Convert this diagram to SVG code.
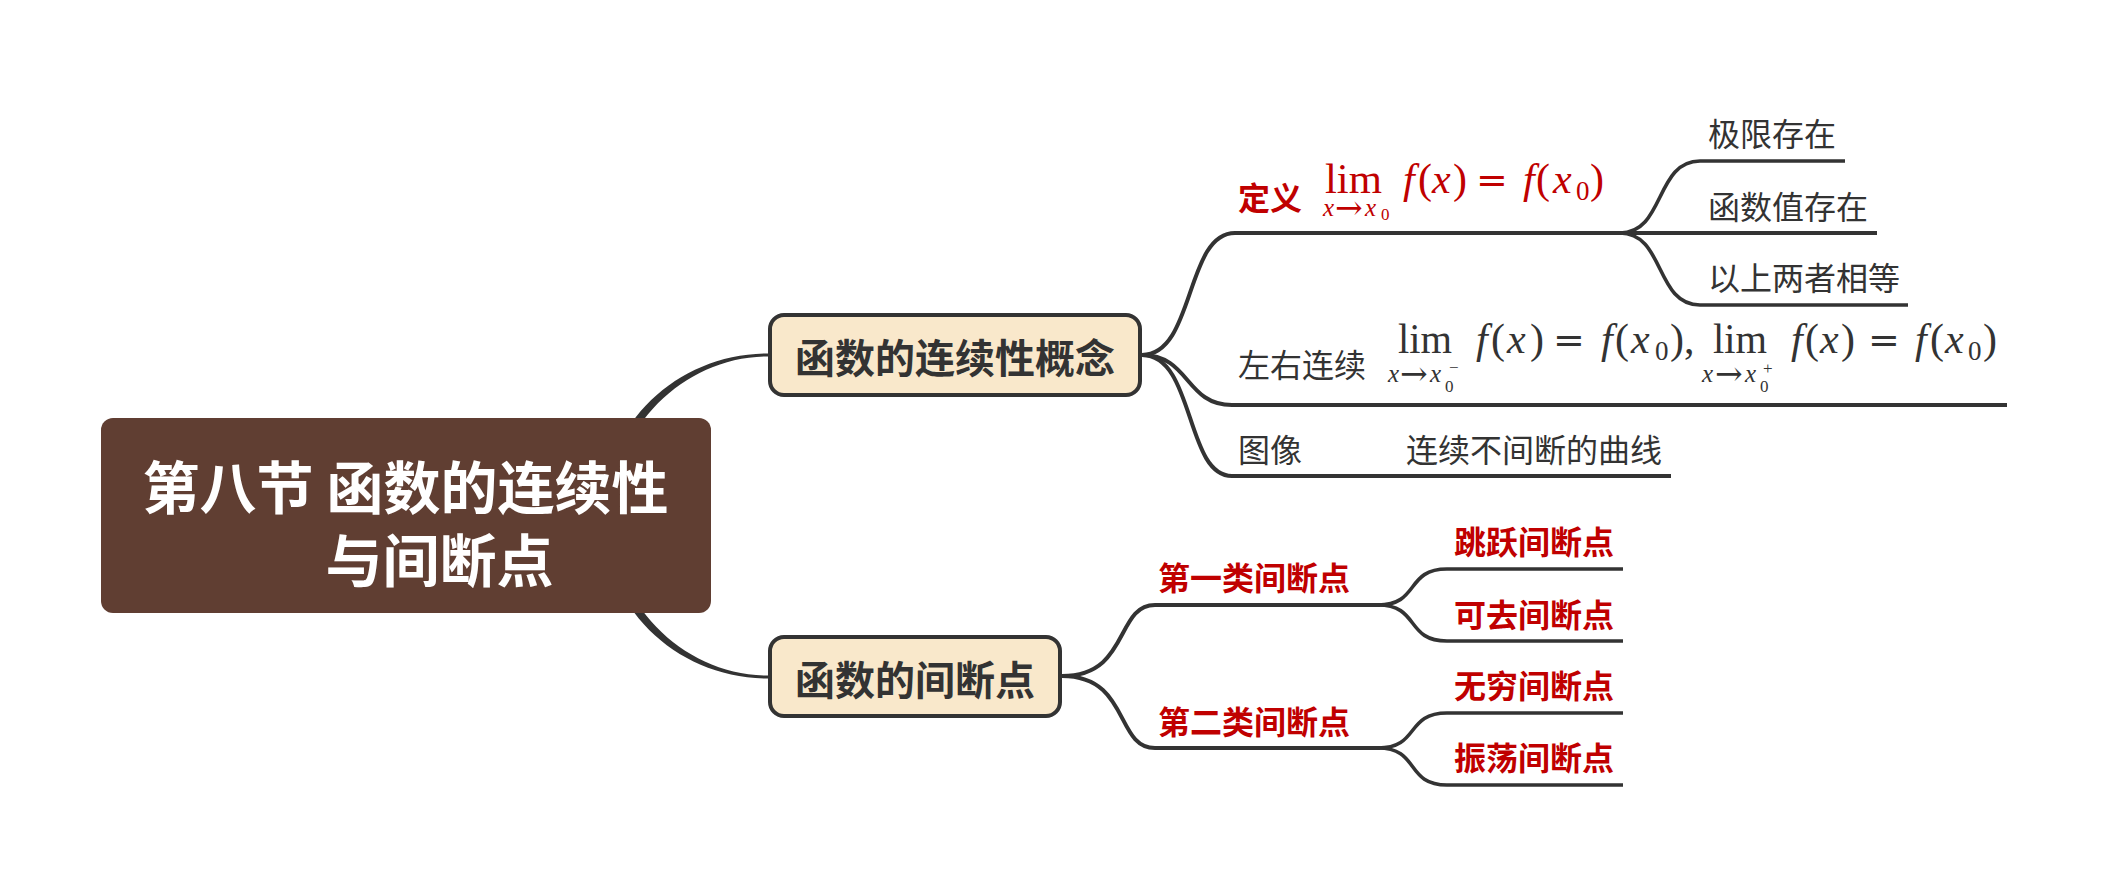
<svg xmlns="http://www.w3.org/2000/svg" width="2108" height="888" viewBox="0 0 2108 888">
<style>
.ln{fill:none;stroke:#333;stroke-width:4;stroke-linecap:butt}
.sub{stroke-width:3.6}
.tap{fill:#333}
.cjk{font-family:"Noto Sans CJK SC","Liberation Sans",sans-serif;dominant-baseline:central}
.g{fill:#333;font-size:32px}
.r{fill:#C00000;font-size:32px;font-weight:bold}
.node{fill:#F9E8CB;stroke:#333;stroke-width:4}
.nt{fill:#333;font-size:40px;font-weight:bold;text-anchor:middle}
.rt{fill:#fff;font-size:57px;font-weight:bold;text-anchor:middle}
.m{font-family:"Liberation Serif",serif;font-size:42px}
.s{font-family:"Liberation Serif",serif;font-size:25px}
.ss{font-size:17px}
.z{font-size:27px}
.ar{font-family:"DejaVu Serif",serif;font-size:33px}
.eq{font-family:"DejaVu Serif",serif;font-size:38px}
.i{font-style:italic}
.red{fill:#C00000}
.dk{fill:#333}
</style>
<rect width="2108" height="888" fill="#fff"/>
<g id="connectors">
<path class="tap" d="M602,516 C602,425.5 676.3,353.5 768,353.5 L771,353.5 L771,356.5 L768,356.5 C683,356.5 611,429.5 611,516 Z"/>
<path class="tap" d="M602,516 C602,606.5 676.3,678.5 768,678.5 L771,678.5 L771,675.5 L768,675.5 C683,675.5 611,602.5 611,516 Z"/>
<path class="ln" d="M1142,355 C1195,355 1185,233 1235,233 L1877,233"/>
<path class="ln" d="M1142,355 C1190,355 1185,405 1232,405 L2007,405"/>
<path class="ln" d="M1142,355 C1195,355 1185,476 1232,476 L1671,476"/>
<path class="ln sub" d="M1620,233 C1665,233 1655,161 1700,161 L1845,161"/>
<path class="ln sub" d="M1620,233 C1665,233 1655,305 1700,305 L1908,305"/>
<path class="ln" d="M1062,676 C1130,676 1115,605 1155,605 L1380,605"/>
<path class="ln" d="M1062,676 C1130,676 1115,748 1155,748 L1380,748"/>
<path class="ln sub" d="M1378,605 C1420,605 1405,569 1447,569 L1623,569"/>
<path class="ln sub" d="M1378,605 C1420,605 1405,641 1447,641 L1623,641"/>
<path class="ln sub" d="M1378,748 C1420,748 1405,713 1447,713 L1623,713"/>
<path class="ln sub" d="M1378,748 C1420,748 1405,785 1447,785 L1623,785"/>
</g>
<g id="root">
<rect x="101" y="418" width="610" height="195" rx="12" fill="#603E32"/>
<text class="cjk rt" x="405.5" y="483.5">第八节 函数的连续性</text>
<text class="cjk rt" x="439.5" y="556.5">与间断点</text>
</g>
<g id="node-continuity">
<rect class="node" x="770" y="315" width="370" height="80" rx="14"/>
<text class="cjk nt" x="955" y="356">函数的连续性概念</text>
</g>
<g id="node-discontinuity">
<rect class="node" x="770" y="637" width="290" height="79" rx="14"/>
<text class="cjk nt" x="915" y="678">函数的间断点</text>
</g>
<g id="node-definition">
<text class="cjk r" x="1238" y="196">定义</text>
<text class="m red" x="1325" y="193" textLength="57" lengthAdjust="spacingAndGlyphs">lim</text>
<text class="s red"><tspan class="i" x="1323" y="216">x</tspan><tspan class="ar" x="1335" y="219">→</tspan><tspan class="i" x="1365" y="216">x</tspan><tspan class="ss" x="1381" y="220">0</tspan></text>
<text class="m red"><tspan class="i" x="1403" y="193">f</tspan><tspan x="1418">(</tspan><tspan class="i" x="1432">x</tspan><tspan x="1453">)</tspan><tspan class="eq" x="1476">=</tspan><tspan class="i" x="1523">f</tspan><tspan x="1536">(</tspan><tspan class="i" x="1553">x</tspan><tspan class="z" x="1576" y="200">0</tspan><tspan x="1590" y="193">)</tspan></text>
</g>
<g id="node-limit-exists"><text class="cjk g" x="1708" y="131.5">极限存在</text></g>
<g id="node-value-exists"><text class="cjk g" x="1708" y="205">函数值存在</text></g>
<g id="node-equal"><text class="cjk g" x="1708" y="276">以上两者相等</text></g>
<g id="node-one-sided">
<text class="cjk g" x="1238" y="363">左右连续</text>
<text class="m dk" x="1398" y="353" textLength="54" lengthAdjust="spacingAndGlyphs">lim</text>
<text class="s dk"><tspan class="i" x="1388" y="382">x</tspan><tspan class="ar" x="1400" y="385">→</tspan><tspan class="i" x="1430" y="382">x</tspan><tspan class="ss" x="1445" y="392">0</tspan><tspan class="ss" x="1449" y="373">−</tspan></text>
<text class="m dk"><tspan class="i" x="1476" y="353">f</tspan><tspan x="1491">(</tspan><tspan class="i" x="1507">x</tspan><tspan x="1530">)</tspan><tspan class="eq" x="1553">=</tspan><tspan class="i" x="1601" y="353">f</tspan><tspan x="1615">(</tspan><tspan class="i" x="1631">x</tspan><tspan class="z" x="1655" y="360">0</tspan><tspan x="1670" y="353">)</tspan><tspan x="1684">,</tspan></text>
<text class="m dk" x="1713" y="353" textLength="54" lengthAdjust="spacingAndGlyphs">lim</text>
<text class="s dk"><tspan class="i" x="1702" y="382">x</tspan><tspan class="ar" x="1715" y="385">→</tspan><tspan class="i" x="1745" y="382">x</tspan><tspan class="ss" x="1760" y="392">0</tspan><tspan class="ss" x="1763" y="374">+</tspan></text>
<text class="m dk"><tspan class="i" x="1791" y="353">f</tspan><tspan x="1805">(</tspan><tspan class="i" x="1820">x</tspan><tspan x="1841">)</tspan><tspan class="eq" x="1868">=</tspan><tspan class="i" x="1915">f</tspan><tspan x="1930">(</tspan><tspan class="i" x="1945">x</tspan><tspan class="z" x="1968" y="360">0</tspan><tspan x="1983" y="353">)</tspan></text>
</g>
<g id="node-graph">
<text class="cjk g" x="1238" y="448">图像</text>
<text class="cjk g" x="1406" y="448">连续不间断的曲线</text>
</g>
<g id="node-first-kind"><text class="cjk r" x="1158" y="576">第一类间断点</text></g>
<g id="node-second-kind"><text class="cjk r" x="1158" y="720">第二类间断点</text></g>
<g id="node-jump"><text class="cjk r" x="1454" y="540">跳跃间断点</text></g>
<g id="node-removable"><text class="cjk r" x="1454" y="612.5">可去间断点</text></g>
<g id="node-infinite"><text class="cjk r" x="1454" y="684">无穷间断点</text></g>
<g id="node-oscillating"><text class="cjk r" x="1454" y="756">振荡间断点</text></g>
</svg>
